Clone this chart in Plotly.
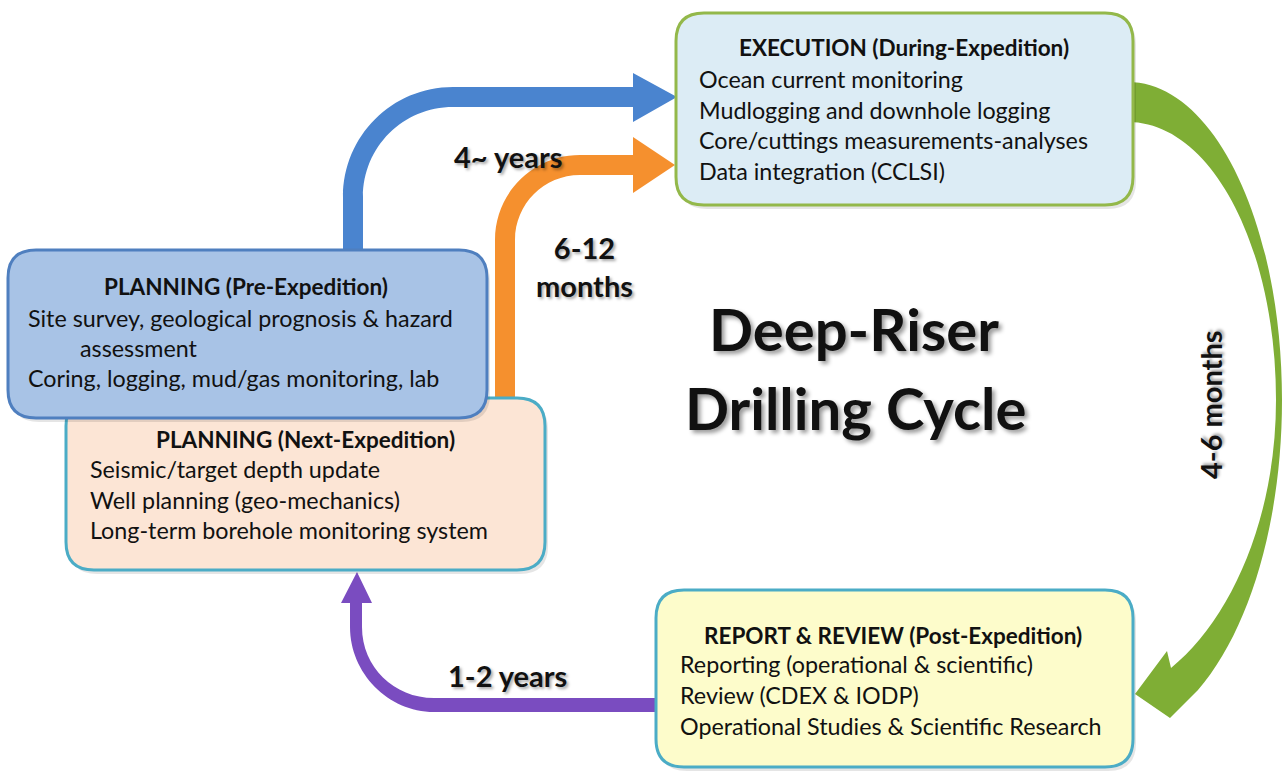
import plotly.graph_objects as go

# text content
title_lines = ["Deep-Riser", "Drilling Cycle"]

execution_head = "EXECUTION (During-Expedition)"
execution_items = ["Ocean current monitoring",
                   "Mudlogging and downhole logging",
                   "Core/cuttings measurements-analyses",
                   "Data integration (CCLSI)"]

pre_head = "PLANNING (Pre-Expedition)"
pre_items = ["Site survey, geological prognosis & hazard",
             "assessment",
             "Coring, logging, mud/gas monitoring, lab"]

next_head = "PLANNING (Next-Expedition)"
next_items = ["Seismic/target depth update",
              "Well planning (geo-mechanics)",
              "Long-term borehole monitoring system"]

report_head = "REPORT & REVIEW (Post-Expedition)"
report_items = ["Reporting (operational & scientific)",
                "Review (CDEX & IODP)",
                "Operational Studies & Scientific Research"]

durations = ["4~ years", "6-12<br>months", "4-6 months", "1-2 years"]

W, H = 1283, 772
FONT = "Lato"


def rounded(x0, y0, x1, y1, r):
    # rounded rectangle path (y axis goes down)
    return (f"M {x0+r},{y0} L {x1-r},{y0} Q {x1},{y0} {x1},{y0+r} "
            f"L {x1},{y1-r} Q {x1},{y1} {x1-r},{y1} L {x0+r},{y1} "
            f"Q {x0},{y1} {x0},{y1-r} L {x0},{y0+r} Q {x0},{y0} {x0+r},{y0} Z")


fig = go.Figure()
shapes = []

# arrows first so the boxes sit on top of their ends
green_arrow = ("M 1128,82 C 1214,82 1282,224 1282,400 C 1282,520 1250,630 1198,690 "
               "L 1170,718 L 1135,694 L 1167,651 L 1171,668 "
               "C 1230,620 1276,520 1276,400 C 1276,246 1211,122 1128,122 Z")
blue_arrow = ("M 343,252 L 343,197 C 343,136 392,87 453,87 L 633,87 L 633,73 L 677,97 "
              "L 633,122 L 633,107 L 453,107 C 403,107 363,147 363,197 L 363,252 Z")
orange_arrow = ("M 495,402 L 495,240 C 495,193 533,155 580,155 L 633,155 L 633,137 "
                "L 675,165 L 633,193 L 633,175 L 580,175 C 544,175 515,204 515,240 L 515,402 Z")
purple_arrow = ("M 658,712 L 434,712 C 388,712 350,673 350,627 L 350,603 L 341,603 "
                "L 357,572 L 372,603 L 362,603 L 362,627 C 362,667 394,698 434,698 L 658,698 Z")

for path, col in [(green_arrow, "#7fae35"), (blue_arrow, "#4a84cf"),
                  (orange_arrow, "#f5902e"), (purple_arrow, "#7a4cc0")]:
    shapes.append(dict(type="path", path=path, xref="x", yref="y",
                       fillcolor=col, line=dict(width=0)))

# boxes: (x0, y0, x1, y1, fill, border)
boxes = [
    (66, 398, 545, 570, "#fce5d5", "#4bacc6"),
    (8, 250, 487, 418, "#a8c3e6", "#4f7fbf"),
    (676, 13, 1133, 205, "#dcecf5", "#93b84a"),
    (656, 590, 1133, 767, "#fdfccb", "#4bacc6"),
]
for x0, y0, x1, y1, fill, border in boxes:
    shapes.append(dict(type="path", path=rounded(x0 + 3, y0 + 4, x1 + 3, y1 + 4, 28),
                       xref="x", yref="y", fillcolor="rgba(0,0,0,0.10)", line=dict(width=0)))
    shapes.append(dict(type="path", path=rounded(x0, y0, x1, y1, 28), xref="x", yref="y",
                       fillcolor=fill, line=dict(color=border, width=3)))

annotations = []


def add_text(txt, x, y, size=20, bold=False, anchor="left", shadow=None, angle=0):
    f = dict(family=FONT, size=size, color="#111111", weight=700 if bold else 400)
    if shadow:
        f["shadow"] = shadow
    annotations.append(dict(text=txt, x=x, y=y, xref="x", yref="y", showarrow=False,
                            xanchor=anchor, yanchor="middle", font=f, textangle=angle))


def add_box_text(head, items, cx, head_y, left, first_y, step, indent=None):
    add_text(head, cx, head_y, size=22.5, bold=True, anchor="center")
    for i, item in enumerate(items):
        x = left
        if indent and i in indent:
            x = indent[i]
        add_text(item, x, first_y + i * step, size=23.3)


add_box_text(execution_head, execution_items, 904, 47, 697, 79, 30.5)
add_box_text(pre_head, pre_items, 246, 286, 26, 318, 30, indent={1: 78})
add_box_text(next_head, next_items, 305, 439, 88, 469, 30.5)
add_box_text(report_head, report_items, 893, 635, 678, 664, 31)

lbl_shadow = "2px 2px 3px rgba(0,0,0,0.35)"
add_text(durations[0], 508, 156, size=29, bold=True, anchor="center", shadow=lbl_shadow)
add_text(durations[1], 584, 266, size=29, bold=True, anchor="center", shadow=lbl_shadow)
add_text(durations[2], 1210, 405, size=29, bold=True, anchor="center", shadow=lbl_shadow, angle=-90)
add_text(durations[3], 507, 675, size=29, bold=True, anchor="center", shadow=lbl_shadow)

title_shadow = "3px 3px 4px rgba(0,0,0,0.4)"
add_text(title_lines[0], 854, 328, size=58, bold=True, anchor="center", shadow=title_shadow)
add_text(title_lines[1], 855, 407, size=58, bold=True, anchor="center", shadow=title_shadow)

fig.update_layout(
    width=W, height=H,
    margin=dict(l=0, r=0, t=0, b=0),
    paper_bgcolor="white", plot_bgcolor="white",
    xaxis=dict(range=[0, W], visible=False, fixedrange=True),
    yaxis=dict(range=[H, 0], visible=False, fixedrange=True),
    shapes=shapes, annotations=annotations,
    showlegend=False,
)

# the page body has a default 8px margin; drop it so the figure fills the window
fig.write_html("out.html", config={"displayModeBar": False},
               post_script="document.body.style.margin='0';document.body.style.overflow='hidden';")
